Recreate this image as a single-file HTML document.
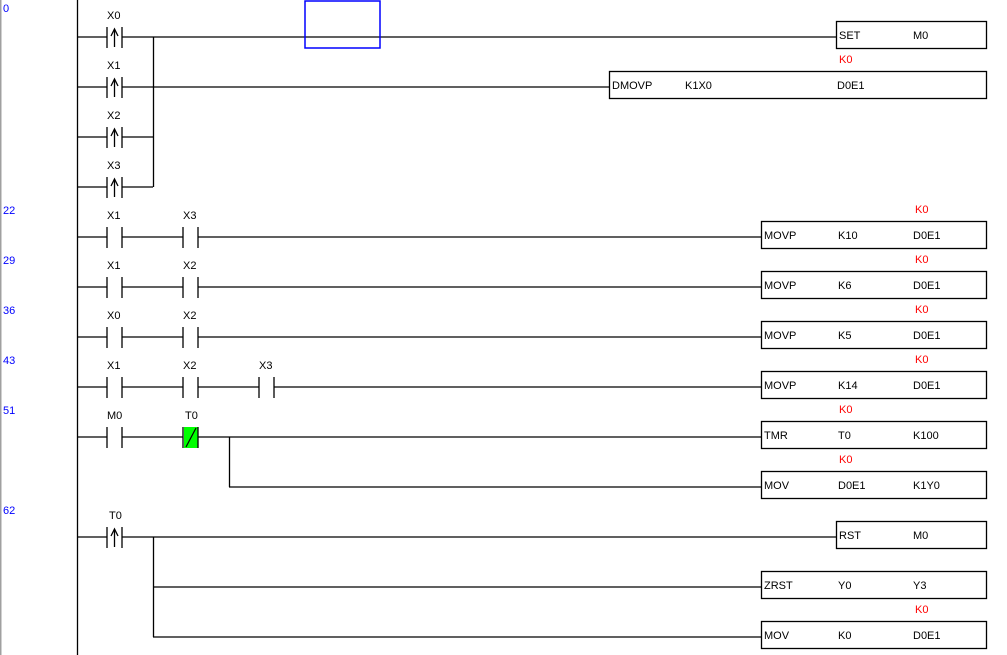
<!DOCTYPE html>
<html><head><meta charset="utf-8"><style>
html,body{margin:0;padding:0;background:#fff;width:1007px;height:655px;overflow:hidden}
svg{display:block}
text{font-family:"Liberation Sans",sans-serif;font-size:11px;fill:#000}
.n{fill:#0000ff}
.r{fill:#ff0000}
</style></head><body>
<svg width="1007" height="655" viewBox="0 0 1007 655" xmlns="http://www.w3.org/2000/svg">
<defs>
<g id="no" stroke="#000" stroke-width="1.3" fill="none"><line x1="0" y1="-10" x2="0" y2="11"/><line x1="15" y1="-10" x2="15" y2="11"/></g>
<g id="up" stroke="#000" stroke-width="1.3" fill="none"><line x1="0" y1="-10" x2="0" y2="11"/><line x1="15" y1="-10" x2="15" y2="11"/><line x1="7.5" y1="-7" x2="7.5" y2="10"/><polyline points="4,-1 7.5,-8 11,-1"/></g>
</defs>
<rect x="0" y="0" width="1.5" height="655" fill="#a0a0a0"/>
<g stroke="#000" stroke-width="1.3" fill="none">
<line x1="77.5" y1="0" x2="77.5" y2="655"/>
<!-- rung 0 -->
<line x1="77" y1="37" x2="107" y2="37"/><line x1="122" y1="37" x2="836" y2="37"/>
<line x1="77" y1="87" x2="107" y2="87"/><line x1="122" y1="87" x2="609" y2="87"/>
<line x1="77" y1="137" x2="107" y2="137"/><line x1="122" y1="137" x2="153" y2="137"/>
<line x1="77" y1="187" x2="107" y2="187"/><line x1="122" y1="187" x2="153" y2="187"/>
<line x1="153.5" y1="37" x2="153.5" y2="187"/>
<!-- rungs 22-43 -->
<line x1="77" y1="237" x2="107" y2="237"/><line x1="122" y1="237" x2="183" y2="237"/><line x1="198" y1="237" x2="761" y2="237"/>
<line x1="77" y1="287" x2="107" y2="287"/><line x1="122" y1="287" x2="183" y2="287"/><line x1="198" y1="287" x2="761" y2="287"/>
<line x1="77" y1="337" x2="107" y2="337"/><line x1="122" y1="337" x2="183" y2="337"/><line x1="198" y1="337" x2="761" y2="337"/>
<line x1="77" y1="387" x2="107" y2="387"/><line x1="122" y1="387" x2="183" y2="387"/><line x1="198" y1="387" x2="259" y2="387"/><line x1="274" y1="387" x2="761" y2="387"/>
<!-- 51 -->
<line x1="77" y1="437" x2="107" y2="437"/><line x1="122" y1="437" x2="183" y2="437"/><line x1="198" y1="437" x2="761" y2="437"/>
<line x1="229.5" y1="437" x2="229.5" y2="487"/><line x1="229" y1="487" x2="761" y2="487"/>
<!-- 62 -->
<line x1="77" y1="537" x2="107" y2="537"/><line x1="122" y1="537" x2="836" y2="537"/>
<line x1="153.5" y1="537" x2="153.5" y2="637"/>
<line x1="153" y1="587" x2="761" y2="587"/><line x1="153" y1="637" x2="761" y2="637"/>
<!-- boxes -->
<rect x="836.5" y="21.5" width="150" height="27"/>
<rect x="609.5" y="71.5" width="377" height="27"/>
<rect x="761.5" y="221.5" width="225" height="27"/>
<rect x="761.5" y="271.5" width="225" height="27"/>
<rect x="761.5" y="321.5" width="225" height="27"/>
<rect x="761.5" y="371.5" width="225" height="27"/>
<rect x="761.5" y="421.5" width="225" height="27"/>
<rect x="761.5" y="471.5" width="225" height="27"/>
<rect x="836.5" y="521.5" width="150" height="27"/>
<rect x="761.5" y="571.5" width="225" height="27"/>
<rect x="761.5" y="621.5" width="225" height="27"/>
</g>
<rect x="305" y="1" width="75" height="47" fill="none" stroke="#0000ff" stroke-width="1.5"/>
<use href="#up" x="107" y="37"/><use href="#up" x="107" y="87"/><use href="#up" x="107" y="137"/><use href="#up" x="107" y="187"/>
<use href="#no" x="107" y="237"/><use href="#no" x="183" y="237"/>
<use href="#no" x="107" y="287"/><use href="#no" x="183" y="287"/>
<use href="#no" x="107" y="337"/><use href="#no" x="183" y="337"/>
<use href="#no" x="107" y="387"/><use href="#no" x="183" y="387"/><use href="#no" x="259" y="387"/>
<use href="#no" x="107" y="437"/>
<rect x="184" y="427" width="14" height="21" fill="#00ff00"/>
<use href="#no" x="183" y="437"/>
<line x1="186" y1="447" x2="196" y2="428" stroke="#000" stroke-width="1.2"/>
<use href="#up" x="107" y="537"/>
<!-- row numbers -->
<text class="n" x="3" y="12">0</text>
<text class="n" x="3" y="214">22</text>
<text class="n" x="3" y="264">29</text>
<text class="n" x="3" y="314">36</text>
<text class="n" x="3" y="364">43</text>
<text class="n" x="3" y="414">51</text>
<text class="n" x="3" y="514">62</text>
<text class="n" x="3" y="664">70</text>
<!-- contact labels -->
<text x="107" y="19">X0</text><text x="107" y="69">X1</text><text x="107" y="119">X2</text><text x="107" y="169">X3</text>
<text x="107" y="219">X1</text><text x="183" y="219">X3</text>
<text x="107" y="269">X1</text><text x="183" y="269">X2</text>
<text x="107" y="319">X0</text><text x="183" y="319">X2</text>
<text x="107" y="369">X1</text><text x="183" y="369">X2</text><text x="259" y="369">X3</text>
<text x="107" y="419">M0</text><text x="185" y="419">T0</text>
<text x="109" y="519">T0</text>
<!-- box text -->
<text x="839" y="39">SET</text><text x="913" y="39">M0</text>
<text class="r" x="839" y="63">K0</text>
<text x="612" y="89">DMOVP</text><text x="685" y="89">K1X0</text><text x="837" y="89">D0E1</text>
<text class="r" x="915" y="213">K0</text>
<text x="764" y="239">MOVP</text><text x="838" y="239">K10</text><text x="913" y="239">D0E1</text>
<text class="r" x="915" y="263">K0</text>
<text x="764" y="289">MOVP</text><text x="838" y="289">K6</text><text x="913" y="289">D0E1</text>
<text class="r" x="915" y="313">K0</text>
<text x="764" y="339">MOVP</text><text x="838" y="339">K5</text><text x="913" y="339">D0E1</text>
<text class="r" x="915" y="363">K0</text>
<text x="764" y="389">MOVP</text><text x="838" y="389">K14</text><text x="913" y="389">D0E1</text>
<text class="r" x="839" y="413">K0</text>
<text x="764" y="439">TMR</text><text x="838" y="439">T0</text><text x="913" y="439">K100</text>
<text class="r" x="839" y="463">K0</text>
<text x="764" y="489">MOV</text><text x="838" y="489">D0E1</text><text x="913" y="489">K1Y0</text>
<text x="839" y="539">RST</text><text x="913" y="539">M0</text>
<text x="764" y="589">ZRST</text><text x="838" y="589">Y0</text><text x="913" y="589">Y3</text>
<text class="r" x="915" y="613">K0</text>
<text x="764" y="639">MOV</text><text x="838" y="639">K0</text><text x="913" y="639">D0E1</text>
</svg>
</body></html>
